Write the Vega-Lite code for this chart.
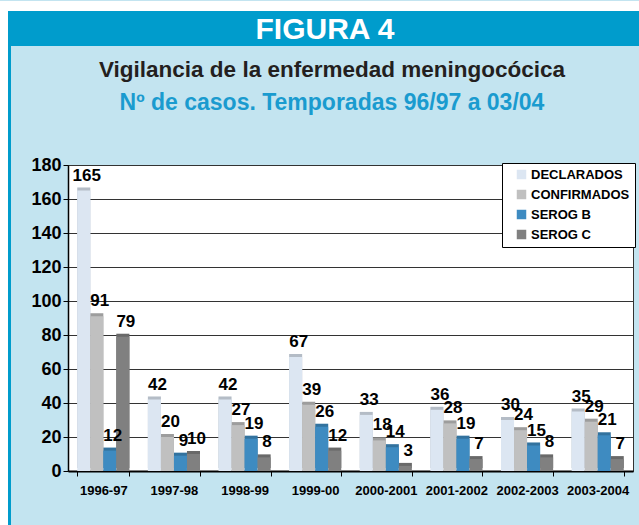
{
  "$schema": "https://vega.github.io/schema/vega-lite/v6.json",
  "background": "#c3e4f0",
  "padding": 0,
  "spacing": 0,
  "config": {"view": {"stroke": null}, "concat": {"spacing": 0}},
  "vconcat": [
    {"width": 639, "height": 10, "view": {"fill": "white", "stroke": null}, "data": {"values": [{}]}, "mark": {"type": "text", "text": ""}},
    {
      "spacing": 0,
      "hconcat": [
        {"width": 8, "height": 515, "view": {"fill": "white", "stroke": null}, "data": {"values": [{}]}, "mark": {"type": "text", "text": ""}},
        {"width": 3, "height": 515, "view": {"fill": "#009ccc", "stroke": null}, "data": {"values": [{}]}, "mark": {"type": "text", "text": ""}},
        {
          "spacing": 0,
          "vconcat": [
            {"width": 628, "height": 35, "view": {"fill": "#009ccc", "stroke": null}, "data": {"values": [{"t": "FIGURA 4"}]},
             "mark": {"type": "text", "font": "Liberation Sans", "fontSize": 30, "fontWeight": "bold", "color": "white", "align": "center", "baseline": "middle", "dy": 1},
             "encoding": {"text": {"field": "t"}}},
            {"width": 628, "height": 7, "data": {"values": [{}]}, "mark": {"type": "text", "text": ""}},
            {
              "spacing": 0,
              "hconcat": [
                {"width": 19, "height": 10, "data": {"values": [{}]}, "mark": {"type": "text", "text": ""}},
                {
                  "width": 565,
                  "height": 306,
                  "view": {"fill": "white", "stroke": "#333333", "strokeWidth": 1},
                  "title": {
                    "text": "Vigilancia de la enfermedad meningocócica",
                    "subtitle": "Nº de casos. Temporadas 96/97 a 03/04",
                    "anchor": "middle", "frame": "bounds",
                    "font": "Liberation Sans", "fontSize": 22.5, "fontWeight": "bold", "color": "#231f20",
                    "subtitleFont": "Liberation Sans", "subtitleFontSize": 23, "subtitleFontWeight": "bold", "subtitleColor": "#1a9bcf",
                    "subtitlePadding": 11, "offset": 41
                  },
                  "data": {"values": [
                    {"t": "1996-97", "s": "DECLARADOS", "v": 165}, {"t": "1996-97", "s": "CONFIRMADOS", "v": 91}, {"t": "1996-97", "s": "SEROG B", "v": 12}, {"t": "1996-97", "s": "SEROG C", "v": 79},
                    {"t": "1997-98", "s": "DECLARADOS", "v": 42}, {"t": "1997-98", "s": "CONFIRMADOS", "v": 20}, {"t": "1997-98", "s": "SEROG B", "v": 9}, {"t": "1997-98", "s": "SEROG C", "v": 10},
                    {"t": "1998-99", "s": "DECLARADOS", "v": 42}, {"t": "1998-99", "s": "CONFIRMADOS", "v": 27}, {"t": "1998-99", "s": "SEROG B", "v": 19}, {"t": "1998-99", "s": "SEROG C", "v": 8},
                    {"t": "1999-00", "s": "DECLARADOS", "v": 67}, {"t": "1999-00", "s": "CONFIRMADOS", "v": 39}, {"t": "1999-00", "s": "SEROG B", "v": 26}, {"t": "1999-00", "s": "SEROG C", "v": 12},
                    {"t": "2000-2001", "s": "DECLARADOS", "v": 33}, {"t": "2000-2001", "s": "CONFIRMADOS", "v": 18}, {"t": "2000-2001", "s": "SEROG B", "v": 14}, {"t": "2000-2001", "s": "SEROG C", "v": 3},
                    {"t": "2001-2002", "s": "DECLARADOS", "v": 36}, {"t": "2001-2002", "s": "CONFIRMADOS", "v": 28}, {"t": "2001-2002", "s": "SEROG B", "v": 19}, {"t": "2001-2002", "s": "SEROG C", "v": 7},
                    {"t": "2002-2003", "s": "DECLARADOS", "v": 30}, {"t": "2002-2003", "s": "CONFIRMADOS", "v": 24}, {"t": "2002-2003", "s": "SEROG B", "v": 15}, {"t": "2002-2003", "s": "SEROG C", "v": 8},
                    {"t": "2003-2004", "s": "DECLARADOS", "v": 35}, {"t": "2003-2004", "s": "CONFIRMADOS", "v": 29}, {"t": "2003-2004", "s": "SEROG B", "v": 21}, {"t": "2003-2004", "s": "SEROG C", "v": 7}
                  ]},
                  "encoding": {
                    "x": {"field": "t", "type": "nominal", "sort": null,
                      "scale": {"paddingInner": 0.262, "paddingOuter": 0.131},
                      "axis": {"title": null, "labelAngle": 0, "labelFont": "Liberation Sans", "labelFontSize": 13, "labelFontWeight": "bold", "labelColor": "black", "labelPadding": 8, "tickBand": "extent", "tickSize": 5, "tickColor": "black", "domainColor": "black", "domainWidth": 2, "grid": false}},
                    "xOffset": {"field": "s", "type": "nominal", "sort": ["DECLARADOS", "CONFIRMADOS", "SEROG B", "SEROG C"]},
                    "y": {"field": "v", "type": "quantitative",
                      "scale": {"domain": [0, 180], "nice": false},
                      "axis": {"title": null, "values": [0, 20, 40, 60, 80, 100, 120, 140, 160, 180], "labelFont": "Liberation Sans", "labelFontSize": 18, "labelFontWeight": "bold", "labelColor": "black", "labelPadding": 2, "tickSize": 5, "tickColor": "black", "domainColor": "black", "domainWidth": 1.5, "gridColor": "#333333", "gridWidth": 1}},
                    "color": {"field": "s", "type": "nominal",
                      "scale": {"domain": ["DECLARADOS", "CONFIRMADOS", "SEROG B", "SEROG C"], "range": ["#dce6f2", "#c0c0c0", "#3e8bc1", "#808080"]},
                      "legend": {"title": null, "orient": "none", "legendX": 502, "legendY": 162, "fillColor": "white", "strokeColor": "black", "padding": 5, "symbolType": "square", "symbolSize": 90, "symbolStrokeWidth": 0, "symbolOffset": 8, "labelFont": "Liberation Sans", "labelFontSize": 13, "labelFontWeight": "bold", "labelColor": "black", "rowPadding": 6, "labelOffset": 3}}
                  },
                  "layer": [
                    {"mark": {"type": "bar", "xOffset": 3, "x2Offset": 3, "yOffset": -3, "y2Offset": -3}},
                    {"mark": {"type": "bar", "xOffset": 3, "x2Offset": 3, "yOffset": -3, "y2Offset": -3, "color": "black", "opacity": 0.18}, "encoding": {"color": {"value": "black"}}},
                    {"mark": {"type": "bar"}},
                    {"mark": {"type": "text", "baseline": "bottom", "dy": -6, "dx": 3, "font": "Liberation Sans", "fontSize": 17, "fontWeight": "bold", "color": "black"},
                     "encoding": {"text": {"field": "v", "type": "quantitative"}, "color": {"value": "black"}}}
                  ]
                }
              ]
            }
          ]
        }
      ]
    }
  ]
}
